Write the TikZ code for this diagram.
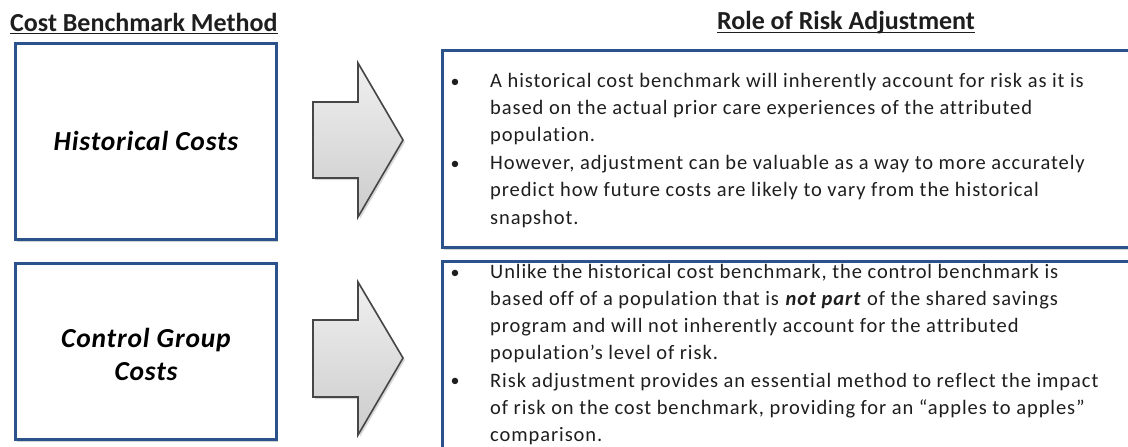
\documentclass[tikz,border=0pt]{standalone}
\usepackage{fontspec}
\setmainfont{Carlito}
\newfontfamily\bodyfont[LetterSpace=4.5,Ligatures=CommonOff]{Carlito}
\newfontfamily\labelfont[LetterSpace=3,Ligatures=CommonOff]{Carlito}
\usetikzlibrary{shadows}
\definecolor{boxblue}{RGB}{44,82,140}
\definecolor{txt}{RGB}{30,30,30}
\definecolor{arrowedge}{RGB}{70,70,70}
\tikzset{
  title/.style={font={\fontsize{26}{30}\selectfont\bfseries}, text=txt, inner sep=0pt, anchor=base west},
  leftbox/.style={draw=boxblue, line width=3pt, fill=white, minimum width=261pt,
    drop shadow={shadow xshift=2pt, shadow yshift=-3pt, opacity=0.35}},
  boxlabel/.style={font={\labelfont\fontsize{27.5}{33}\selectfont\bfseries\itshape}, align=center, text=black, inner sep=0pt},
  rightbox/.style={draw=boxblue, line width=3pt, fill=white,
    drop shadow={shadow xshift=2pt, shadow yshift=-3pt, opacity=0.35}},
  bodytext/.style={font={\bodyfont\fontsize{20.5}{27.2}\selectfont}, text=txt, align=left, inner sep=0pt, anchor=north west},
  bulletmark/.style={font={\fontsize{18}{27.2}\selectfont}, text=txt, inner sep=0pt, anchor=base},
  blockarrow/.style={draw=arrowedge, line width=1.6pt, line join=miter, top color=gray!12, bottom color=gray!40,
    drop shadow={shadow xshift=2pt, shadow yshift=-2pt, opacity=0.3}},
  uline/.style={draw=txt, line width=1.4pt}
}
\begin{document}
\begin{tikzpicture}[x=1pt,y=-1pt]
\clip (0,0) rectangle (1128,447);
\fill[white] (0,0) rectangle (1128,447);

% titles
\node[title] (tl) at (10,31) {Cost Benchmark Method};
\draw[uline] ([yshift=-2.6pt]tl.base west) -- ([yshift=-2.6pt]tl.base east);
\node[title] (tr) at (717,30) {Role of Risk Adjustment};
\draw[uline] ([yshift=-2.6pt]tr.base west) -- ([yshift=-2.6pt]tr.base east);

% left boxes
\node[leftbox, minimum height=196pt] (hist) at (145.5,141) {};
\node[boxlabel, anchor=base] (histtxt) at (146,150) {Historical Costs};
\node[leftbox, minimum height=176pt] (ctrl) at (145.5,351) {};
\node[boxlabel, anchor=north] (ctrltxt) at (146,347-23.1) {\strut Control Group\\Costs};

% block arrows
\path[blockarrow] (313,102) -- (358,102) -- (358,63) -- (403,140) -- (358,217) -- (358,178) -- (313,178) -- cycle;
\path[blockarrow] (313,320) -- (358,320) -- (358,282) -- (403,358) -- (358,435) -- (358,397) -- (313,397) -- cycle;

% right boxes
\path[rightbox] (442,50) rectangle (1145,247);
\path[rightbox] (442,261) rectangle (1145,470);

% box 1 text
\node[bulletmark] (d1) at (455,87) {•};
\node[bodytext] (p1) at (490,87-19.04) {\strut A historical cost benchmark will inherently account for risk as it is\\based on the actual prior care experiences of the attributed\\population.};
\node[bulletmark] (d2) at (455,169.5) {•};
\node[bodytext] (p2) at (490,169.5-19.04) {\strut However, adjustment can be valuable as a way to more accurately\\predict how future costs are likely to vary from the historical\\snapshot.};

% box 2 text
\node[bulletmark] (d3) at (455,278) {•};
\node[bodytext] (p3) at (490,278-19.04) {\strut Unlike the historical cost benchmark, the control benchmark is\\based off of a population that is \textbf{\textit{not part}} of the shared savings\\program and will not inherently account for the attributed\\population’s level of risk.};
\node[bulletmark] (d4) at (455,386.8) {•};
\node[bodytext] (p4) at (490,386.8-19.04) {\strut Risk adjustment provides an essential method to reflect the impact\\of risk on the cost benchmark, providing for an “apples to apples”\\comparison.};
\end{tikzpicture}
\end{document}
